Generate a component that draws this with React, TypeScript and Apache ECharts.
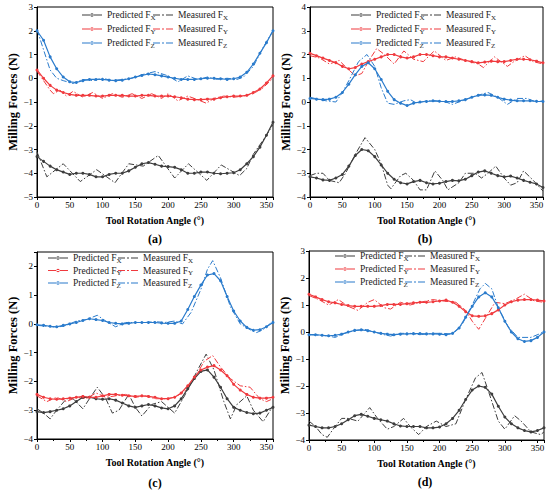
import React, { useEffect, useRef } from "react";
import * as echarts from "echarts";

// ---------- data ----------
const ANG = [0, 10, 20, 30, 40, 50, 60, 70, 80, 90, 100, 110, 120, 130, 140, 150, 160, 170, 180, 190, 200, 210, 220, 230, 240, 250, 260, 270, 280, 290, 300, 310, 320, 330, 340, 350, 360];

// panel (a)
const aPredX = [-3.3, -3.5, -3.7, -3.85, -3.95, -4.05, -4.0, -4.0, -4.05, -4.15, -4.15, -4.05, -4.0, -4.0, -3.9, -3.75, -3.6, -3.55, -3.62, -3.7, -3.72, -3.75, -3.85, -4.0, -4.0, -3.95, -3.95, -4.0, -4.02, -4.0, -3.98, -3.85, -3.6, -3.3, -2.9, -2.4, -1.85];
const aMeasXAng = [0, 15, 40, 66, 91, 119, 140, 162, 185, 210, 231, 259, 281, 309, 320, 330, 340, 350, 360];
const aMeasX = [-3.1, -4.15, -3.6, -4.35, -3.85, -4.4, -3.6, -3.7, -3.25, -4.2, -3.6, -4.3, -3.65, -4.1, -3.8, -3.2, -2.8, -2.4, -1.95];
const aPredY = [0.35, 0.0, -0.3, -0.5, -0.6, -0.68, -0.72, -0.72, -0.72, -0.75, -0.75, -0.72, -0.72, -0.72, -0.75, -0.75, -0.72, -0.72, -0.75, -0.75, -0.75, -0.78, -0.82, -0.88, -0.9, -0.9, -0.88, -0.88, -0.82, -0.78, -0.75, -0.75, -0.72, -0.6, -0.45, -0.2, 0.1];
const aMeasYAng = [0, 10, 20, 25, 35, 45, 55, 70, 85, 100, 115, 130, 145, 160, 175, 190, 200, 215, 230, 245, 258, 270, 285, 300, 315, 330, 345, 360];
const aMeasY = [0.3, -0.1, -0.5, -0.65, -0.5, -0.75, -0.55, -0.8, -0.6, -0.85, -0.65, -0.8, -0.65, -0.85, -0.65, -0.85, -0.65, -0.95, -0.75, -0.9, -1.05, -0.85, -0.75, -0.8, -0.75, -0.65, -0.4, 0.0];
const aPredZ = [2.0, 1.6, 0.9, 0.4, 0.05, -0.15, -0.18, -0.1, -0.05, -0.05, -0.05, -0.08, -0.1, -0.08, -0.02, 0.05, 0.12, 0.18, 0.15, 0.1, 0.05, 0.0, -0.05, -0.05, -0.05, -0.02, 0.0, 0.0, -0.02, -0.05, -0.02, 0.05, 0.25, 0.6, 1.05, 1.5, 2.0];
const aMeasZAng = [0, 10, 20, 30, 40, 55, 70, 85, 100, 115, 130, 145, 160, 180, 200, 215, 230, 245, 260, 275, 290, 305, 315, 330, 345, 360];
const aMeasZ = [2.05, 1.2, 0.35, 0.0, -0.1, -0.22, -0.05, -0.1, 0.0, -0.1, -0.05, 0.0, 0.15, 0.28, 0.1, -0.15, 0.1, -0.05, 0.05, -0.05, 0.0, -0.05, 0.05, 0.5, 1.3, 2.0];

// panel (b)
const bPredX = [-3.15, -3.2, -3.28, -3.3, -3.2, -3.05, -2.7, -2.25, -2.0, -2.05, -2.3, -2.65, -3.0, -3.25, -3.4, -3.45, -3.35, -3.3, -3.4, -3.45, -3.42, -3.35, -3.3, -3.32, -3.25, -3.1, -2.95, -2.9, -3.0, -3.1, -3.15, -3.12, -3.2, -3.3, -3.38, -3.45, -3.6];
const bMeasXAng = [0, 10, 20, 30, 45, 55, 70, 85, 100, 110, 120, 125, 140, 148, 160, 170, 180, 193, 205, 213, 230, 240, 255, 265, 275, 287, 300, 310, 320, 330, 345, 360];
const bMeasX = [-3.1, -3.0, -3.0, -3.3, -3.4, -3.0, -2.2, -1.5, -2.0, -2.6, -3.5, -3.65, -3.1, -3.0, -3.3, -3.7, -3.7, -2.9, -3.3, -3.7, -3.4, -3.0, -3.0, -3.2, -3.0, -2.7, -3.2, -3.5, -3.4, -2.9, -3.3, -3.75];
const bPredY = [2.05, 1.95, 1.85, 1.75, 1.65, 1.5, 1.4, 1.45, 1.6, 1.7, 1.8, 1.9, 2.0, 2.0, 1.9, 1.85, 1.9, 2.0, 2.0, 1.95, 1.9, 1.9, 1.85, 1.8, 1.75, 1.7, 1.65, 1.68, 1.72, 1.7, 1.7, 1.75, 1.8, 1.8, 1.78, 1.72, 1.65];
const bMeasYAng = [0, 15, 30, 45, 60, 70, 80, 90, 103, 115, 130, 145, 160, 175, 192, 210, 225, 240, 260, 268, 285, 305, 315, 332, 345, 360];
const bMeasY = [1.95, 1.85, 1.6, 1.75, 1.35, 1.1, 1.2, 1.7, 2.25, 2.0, 1.6, 2.15, 1.8, 1.7, 2.15, 1.75, 1.9, 1.75, 1.6, 1.45, 1.9, 1.5, 1.7, 1.95, 1.7, 1.6];
const bPredZ = [0.15, 0.12, 0.1, 0.12, 0.2, 0.4, 0.75, 1.15, 1.5, 1.65, 1.4, 0.95, 0.45, 0.1, -0.05, -0.15, -0.05, 0.0, 0.02, 0.05, 0.03, 0.02, 0.02, 0.05, 0.1, 0.2, 0.28, 0.3, 0.28, 0.2, 0.12, 0.08, 0.05, 0.05, 0.05, 0.03, 0.02];
const bMeasZAng = [0, 15, 25, 40, 50, 60, 75, 88, 100, 110, 120, 130, 145, 155, 165, 180, 195, 210, 220, 235, 255, 275, 290, 305, 320, 335, 350, 360];
const bMeasZ = [0.2, 0.1, 0.05, 0.0, 0.4, 0.9, 1.7, 2.0, 1.5, 0.6, -0.05, -0.1, 0.05, 0.1, -0.05, 0.05, 0.05, 0.0, -0.1, 0.05, 0.25, 0.4, 0.2, -0.1, 0.15, 0.15, 0.0, 0.05];

// panel (c)
const cPredX = [-3.05, -3.08, -3.05, -3.0, -2.95, -2.85, -2.7, -2.55, -2.55, -2.6, -2.62, -2.6, -2.65, -2.75, -2.85, -2.9, -2.85, -2.8, -2.85, -2.92, -2.95, -2.85, -2.6, -2.25, -1.9, -1.65, -1.6, -1.85, -2.2, -2.6, -2.9, -3.0, -3.08, -3.12, -3.1, -3.0, -2.9];
const cMeasXAng = [0, 10, 20, 30, 45, 55, 70, 80, 92, 105, 115, 125, 140, 150, 160, 175, 190, 210, 225, 245, 258, 270, 285, 295, 305, 320, 330, 345, 360];
const cMeasX = [-2.95, -3.1, -3.3, -3.0, -2.6, -2.6, -2.95, -2.6, -2.2, -2.6, -3.1, -3.0, -2.45, -2.9, -3.2, -2.8, -2.7, -3.1, -2.5, -1.6, -1.05, -1.6, -2.7, -3.3, -2.8, -2.5, -3.0, -3.4, -2.85];
const cPredY = [-2.45, -2.55, -2.6, -2.62, -2.6, -2.58, -2.55, -2.52, -2.55, -2.55, -2.5, -2.45, -2.45, -2.48, -2.5, -2.52, -2.5, -2.52, -2.55, -2.6, -2.6, -2.55, -2.4, -2.15, -1.85, -1.6, -1.5, -1.45, -1.6, -1.8, -2.1, -2.3, -2.45, -2.55, -2.58, -2.58, -2.55];
const cMeasYAng = [0, 15, 30, 45, 60, 75, 90, 105, 120, 135, 150, 165, 180, 195, 210, 225, 240, 255, 268, 280, 295, 310, 325, 340, 350, 360];
const cMeasY = [-2.5, -2.7, -2.55, -2.7, -2.55, -2.6, -2.4, -2.55, -2.5, -2.45, -2.55, -2.5, -2.6, -2.6, -2.55, -2.35, -1.9, -1.3, -1.1, -1.5, -1.9, -2.15, -2.2, -2.6, -2.7, -2.6];
const cPredZ = [-0.03, -0.05, -0.08, -0.1, -0.05, 0.0, 0.05, 0.12, 0.18, 0.15, 0.12, 0.05, 0.02, 0.0, 0.02, 0.05, 0.05, 0.05, 0.05, 0.03, 0.02, 0.02, 0.1, 0.5, 0.95, 1.35, 1.7, 1.75, 1.5, 0.95, 0.45, 0.1, -0.12, -0.22, -0.2, -0.1, 0.05];
const cMeasZAng = [0, 15, 30, 45, 60, 75, 92, 105, 120, 135, 150, 165, 180, 195, 210, 222, 235, 250, 260, 268, 280, 295, 310, 325, 335, 345, 360];
const cMeasZ = [-0.05, -0.08, -0.12, -0.05, 0.1, 0.15, 0.3, 0.1, -0.1, 0.05, 0.05, 0.05, 0.08, 0.05, 0.1, 0.0, 0.4, 1.2, 1.9, 2.2, 1.6, 0.6, 0.0, -0.2, -0.3, -0.2, 0.1];

// panel (d)
const dPredX = [-3.45, -3.5, -3.55, -3.55, -3.5, -3.4, -3.25, -3.1, -3.05, -3.12, -3.2, -3.25, -3.3, -3.4, -3.48, -3.5, -3.5, -3.5, -3.55, -3.55, -3.52, -3.4, -3.2, -2.9, -2.5, -2.15, -2.0, -2.05, -2.3, -2.75, -3.15, -3.4, -3.55, -3.65, -3.7, -3.65, -3.55];
const dMeasXAng = [0, 10, 20, 28, 40, 50, 60, 75, 93, 105, 120, 130, 145, 155, 168, 180, 195, 210, 225, 240, 255, 265, 275, 290, 300, 315, 325, 340, 355, 360];
const dMeasX = [-3.3, -3.5, -3.8, -3.9, -3.5, -3.2, -3.2, -3.3, -2.8, -3.2, -3.6, -3.5, -3.2, -3.5, -3.8, -3.5, -3.3, -3.5, -3.4, -2.5, -1.7, -1.5, -2.2, -3.3, -3.6, -3.1, -3.3, -3.7, -3.8, -3.7];
const dPredY = [1.4, 1.3, 1.2, 1.12, 1.08, 1.02, 0.98, 0.95, 0.95, 0.95, 0.95, 0.98, 1.02, 1.02, 1.02, 1.05, 1.08, 1.1, 1.1, 1.12, 1.15, 1.18, 1.1, 0.95, 0.75, 0.6, 0.58, 0.6, 0.68, 0.82, 1.0, 1.12, 1.18, 1.2, 1.2, 1.18, 1.15];
const dMeasYAng = [0, 15, 30, 45, 60, 75, 90, 100, 115, 125, 140, 155, 170, 190, 205, 225, 240, 250, 260, 270, 285, 300, 315, 330, 345, 360];
const dMeasY = [1.35, 1.2, 1.0, 1.2, 0.95, 0.8, 1.1, 1.2, 0.9, 0.85, 1.1, 1.0, 1.1, 1.2, 1.15, 1.1, 0.8, 0.4, 0.1, 0.5, 1.1, 1.05, 1.2, 1.4, 1.15, 1.1];
const dPredZ = [-0.1, -0.1, -0.12, -0.14, -0.12, -0.08, 0.0, 0.06, 0.08, 0.05, 0.0, -0.05, -0.08, -0.1, -0.08, -0.07, -0.06, -0.06, -0.07, -0.07, -0.08, -0.1, -0.05, 0.15, 0.55, 0.95, 1.3, 1.45, 1.3, 0.9, 0.4, 0.0, -0.25, -0.35, -0.32, -0.2, 0.0];
const dMeasZAng = [0, 15, 30, 40, 55, 70, 85, 100, 115, 125, 140, 155, 170, 190, 205, 220, 235, 250, 262, 270, 280, 290, 305, 320, 340, 355, 360];
const dMeasZ = [-0.1, -0.12, -0.15, -0.2, -0.05, 0.05, 0.1, 0.0, -0.1, -0.15, -0.05, -0.05, -0.1, -0.05, -0.05, -0.08, 0.3, 1.0, 1.6, 1.8, 1.6, 0.9, 0.2, -0.2, -0.2, -0.05, 0.05];

const Y_RANGES = [[-5, 3], [-4, 4], [-4, 2.5], [-4, 3]];
const PANEL_LABELS = ["(a)", "(b)", "(c)", "(d)"];
const NAMES = ["Predicted FX", "Measured FX", "Predicted FY", "Measured FY", "Predicted FZ", "Measured FZ"];

// ---------- style ----------
const C_X = "#3d3d3d";
const C_Y = "#f03a3e";
const C_Z = "#2a7bcc";
const FONT = "Liberation Serif";

// legend icons (20 x 4 box)
const ICON_PRED = "path://M0,1.5h20v1h-20z M8.3,2a1.7,1.7 0 1,0 3.4,0a1.7,1.7 0 1,0 -3.4,0z";
const ICON_MEAS = "path://M0,0h7v1h-7z M9,0h2v1h-2z M13,0h7v1h-7z";

const GRIDS = [
  { left: 37, top: 7, width: 236, height: 190 },
  { left: 310, top: 7, width: 233, height: 190 },
  { left: 37, top: 252, width: 236, height: 187 },
  { left: 309, top: 251, width: 235, height: 189 },
];
const LEGEND_POS = [
  { l1: 82, l2: 153, top: 9, gap: 2 },
  { l1: 351, l2: 421, top: 9, gap: 2 },
  { l1: 48, l2: 118, top: 252, gap: 0.5 },
  { l1: 335, l2: 405, top: 250, gap: 1 },
];
const LABEL_POS = [
  { x: 155, y: 239 },
  { x: 425, y: 239 },
  { x: 155, y: 483 },
  { x: 425, y: 482 },
];

const zip = (xs: number[], ys: number[]) => xs.map((x, i) => [x, ys[i]]);

export default function App() {
  const ref = useRef<HTMLDivElement>(null);
  useEffect(() => {
    if (!ref.current) return;
    const chart = echarts.init(ref.current, undefined, { renderer: "svg" });

    const panels = [
      { px: aPredX, mxA: aMeasXAng, mx: aMeasX, py: aPredY, myA: aMeasYAng, my: aMeasY, pz: aPredZ, mzA: aMeasZAng, mz: aMeasZ },
      { px: bPredX, mxA: bMeasXAng, mx: bMeasX, py: bPredY, myA: bMeasYAng, my: bMeasY, pz: bPredZ, mzA: bMeasZAng, mz: bMeasZ },
      { px: cPredX, mxA: cMeasXAng, mx: cMeasX, py: cPredY, myA: cMeasYAng, my: cMeasY, pz: cPredZ, mzA: cMeasZAng, mz: cMeasZ },
      { px: dPredX, mxA: dMeasXAng, mx: dMeasX, py: dPredY, myA: dMeasYAng, my: dMeasY, pz: dPredZ, mzA: dMeasZAng, mz: dMeasZ },
    ];

    const dash = [6, 2, 1.5, 2];
    const series: any[] = [];
    panels.forEach((p, i) => {
      const pred = (name: string, data: number[], color: string) => ({
        name, type: "line", xAxisIndex: i, yAxisIndex: i,
        data: zip(ANG, data), symbol: "circle", symbolSize: 3,
        itemStyle: { color }, lineStyle: { color, width: 1.2 }, z: 3,
      });
      const meas = (name: string, xs: number[], data: number[], color: string) => ({
        name, type: "line", xAxisIndex: i, yAxisIndex: i,
        data: zip(xs, data), symbol: "none",
        itemStyle: { color }, lineStyle: { color, width: 1, type: dash }, z: 2,
      });
      series.push(pred(NAMES[0], p.px, C_X));
      series.push(meas(NAMES[1], p.mxA, p.mx, C_X));
      series.push(pred(NAMES[2], p.py, C_Y));
      series.push(meas(NAMES[3], p.myA, p.my, C_Y));
      series.push(pred(NAMES[4], p.pz, C_Z));
      series.push(meas(NAMES[5], p.mzA, p.mz, C_Z));
    });

    const legendText = {
      fontFamily: FONT, fontSize: 9.5, color: "#222",
      rich: {
        n: { fontFamily: FONT, fontSize: 9.5, color: "#222", lineHeight: 12 },
        s: { fontFamily: FONT, fontSize: 7, color: "#222", padding: [5, 0, 0, 0], lineHeight: 12 },
      },
    };
    const fmt = (name: string) => "{n|" + name.slice(0, -1) + "}{s|" + name.slice(-1) + "}";
    const legends: any[] = [];
    LEGEND_POS.forEach((lp) => {
      const common = {
        orient: "vertical", top: lp.top, itemWidth: 20, itemHeight: 4,
        itemGap: lp.gap, padding: 0, formatter: fmt, textStyle: legendText,
        selectedMode: false, symbolKeepAspect: true,
      };
      legends.push({
        ...common, left: lp.l1,
        data: [NAMES[0], NAMES[2], NAMES[4]].map((n) => ({ name: n, icon: ICON_PRED })),
      });
      legends.push({
        ...common, left: lp.l2,
        data: [NAMES[1], NAMES[3], NAMES[5]].map((n) => ({ name: n, icon: ICON_MEAS })),
      });
    });

    const axisLine = { show: true, onZero: false, lineStyle: { color: "#000", width: 1 } };
    const xAxis = GRIDS.map((_, i) => ({
      type: "value", gridIndex: i, min: 0, max: 360, interval: 50,
      name: "Tool Rotation Angle (°)", nameLocation: "middle", nameGap: 18,
      nameTextStyle: { fontFamily: FONT, fontSize: 10, fontWeight: "bold", color: "#000" },
      axisLine, axisTick: { show: true, length: 3, lineStyle: { color: "#000" } },
      minorTick: { show: true, splitNumber: 2, length: 2, lineStyle: { color: "#000" } },
      axisLabel: { fontFamily: FONT, fontSize: 9, color: "#000", margin: 3, showMaxLabel: false },
      splitLine: { show: false },
    }));
    const yAxis = GRIDS.map((_, i) => ({
      type: "value", gridIndex: i, min: Y_RANGES[i][0], max: Y_RANGES[i][1], interval: 1,
      name: "Milling Forces (N)", nameLocation: "middle", nameGap: 18, nameRotate: 90,
      nameTextStyle: { fontFamily: FONT, fontSize: 12.5, fontWeight: "bold", color: "#000" },
      axisLine, axisTick: { show: true, length: 3, lineStyle: { color: "#000" } },
      axisLabel: {
        fontFamily: FONT, fontSize: 9, color: "#000", margin: 4,
        formatter: (v: number) => (Number.isInteger(v) ? String(v).replace("-", "\u2212") : ""),
      },
      splitLine: { show: false },
    }));

    chart.setOption({
      animation: false,
      backgroundColor: "#fff",
      grid: GRIDS.map((g) => ({ ...g, show: true, borderColor: "#000", borderWidth: 1, backgroundColor: "transparent" })),
      xAxis, yAxis, legend: legends, series,
      graphic: PANEL_LABELS.map((t, i) => ({
        type: "text", x: LABEL_POS[i].x, y: LABEL_POS[i].y,
        style: { text: t, fontFamily: FONT, fontSize: 12, fontWeight: "bold", fill: "#000", textAlign: "center", textVerticalAlign: "middle" },
      })),
    });
    return () => chart.dispose();
  }, []);
  return <div ref={ref} style={{ position: "fixed", left: 0, top: 0, width: 550, height: 493 }} />;
}
